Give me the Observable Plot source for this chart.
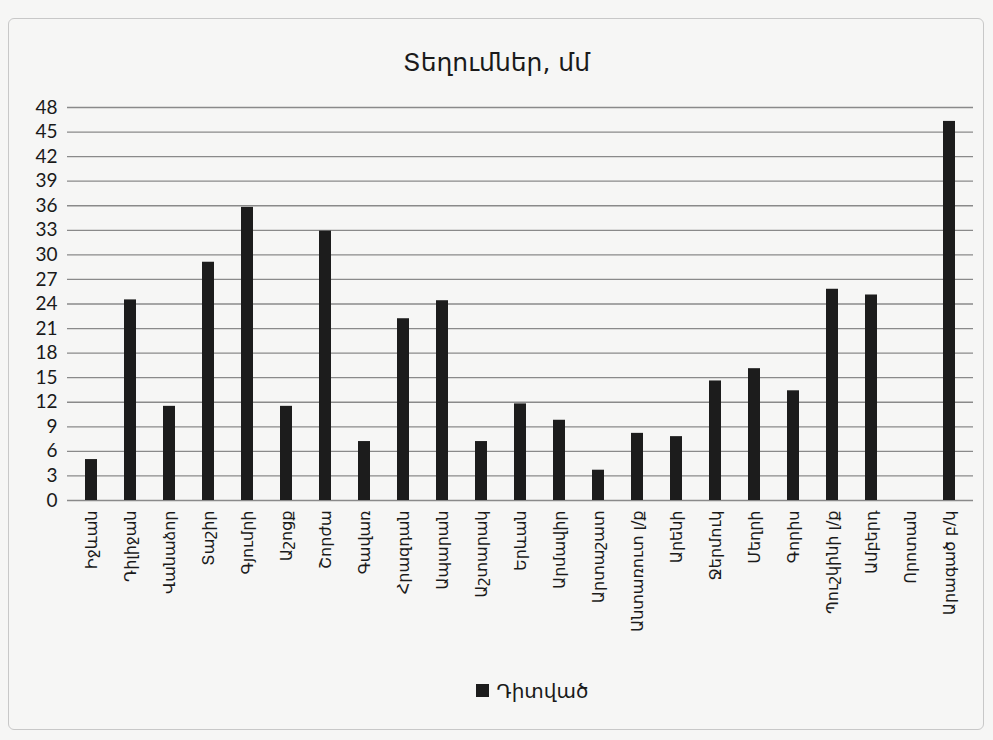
<!DOCTYPE html>
<html>
<head>
<meta charset="utf-8">
<script src="https://cdn.jsdelivr.net/npm/d3@7"></script>
<script src="https://cdn.jsdelivr.net/npm/@observablehq/plot@0.6"></script>
<style>
  html, body { margin: 0; padding: 0; background: #f6f6f5; }
  #frame {
    position: absolute; left: 8px; top: 18px; width: 976px; height: 712px;
    border: 1.5px solid #c8c8c8; border-radius: 6px; box-sizing: border-box;
  }
  #title {
    position: absolute; left: 0; top: 48px; width: 993px; text-align: center;
    font-family: "DejaVu Sans", sans-serif; font-size: 25px; color: #1a1a1a;
  }
  #chart { position: absolute; left: 0; top: 90px; }
  #legend {
    position: absolute; left: 0; top: 679px; width: 1064px; text-align: center;
    font-family: "DejaVu Sans", sans-serif; font-size: 20px; color: #1a1a1a;
  }
  #legend span.sw { display: inline-block; width: 13px; height: 13px; background: #1c1c1c; margin-right: 8px; vertical-align: 1px; }
</style>
</head>
<body>
<div id="frame"></div>
<div id="title">Տեղումներ, մմ</div>
<div id="chart"></div>
<div id="legend"><span class="sw"></span>Դիտված</div>
<script>
const stations = ["Իջևան","Դիլիջան","Վանաձոր","Տաշիր","Գյումրի","Աշոցք","Շորժա","Գավառ","Հրազդան","Ապարան","Աշտարակ","Երևան","Արմավիր","Արտաշատ","Անտառուտ լ/ք","Արենի","Ջերմուկ","Մեղրի","Գորիս","Պուշկինի լ/ք","Ամբերդ","Որոտան","Արագած բ/կ"];
const observed = [5.0,24.5,11.5,29.1,35.8,11.5,32.9,7.2,22.2,24.4,7.2,11.8,9.8,3.7,8.2,7.8,14.6,16.1,13.4,25.8,25.1,0,46.3];
const yTicks = [0,3,6,9,12,15,18,21,24,27,30,33,36,39,42,45,48];

const data = stations.map((s, i) => ({station: s, value: observed[i]}));

const chart = Plot.plot({
  width: 993,
  height: 580,
  marginLeft: 67,
  marginRight: 20,
  marginTop: 17,
  marginBottom: 170,
  style: {background: "transparent", fontFamily: "Lato, 'DejaVu Sans', sans-serif", color: "#1a1a1a"},
  x: {domain: stations, paddingInner: 0.69, paddingOuter: 0.42, label: null},
  y: {domain: [0, 48], label: null},
  marks: [
    Plot.gridY(yTicks, {stroke: "#8a8a8a", strokeOpacity: 1, strokeWidth: 1.3}),
    Plot.barY(data, {x: "station", y: "value", fill: "#1c1c1c"}),
    Plot.axisY({ticks: yTicks, tickSize: 0, tickPadding: 10, fontSize: 19, label: null}),
    Plot.axisX({tickSize: 0, tickPadding: 10, tickRotate: -90, fontSize: 16, fontFamily: "DejaVu Sans, sans-serif", label: null})
  ]
});
document.getElementById("chart").appendChild(chart);
</script>
</body>
</html>
